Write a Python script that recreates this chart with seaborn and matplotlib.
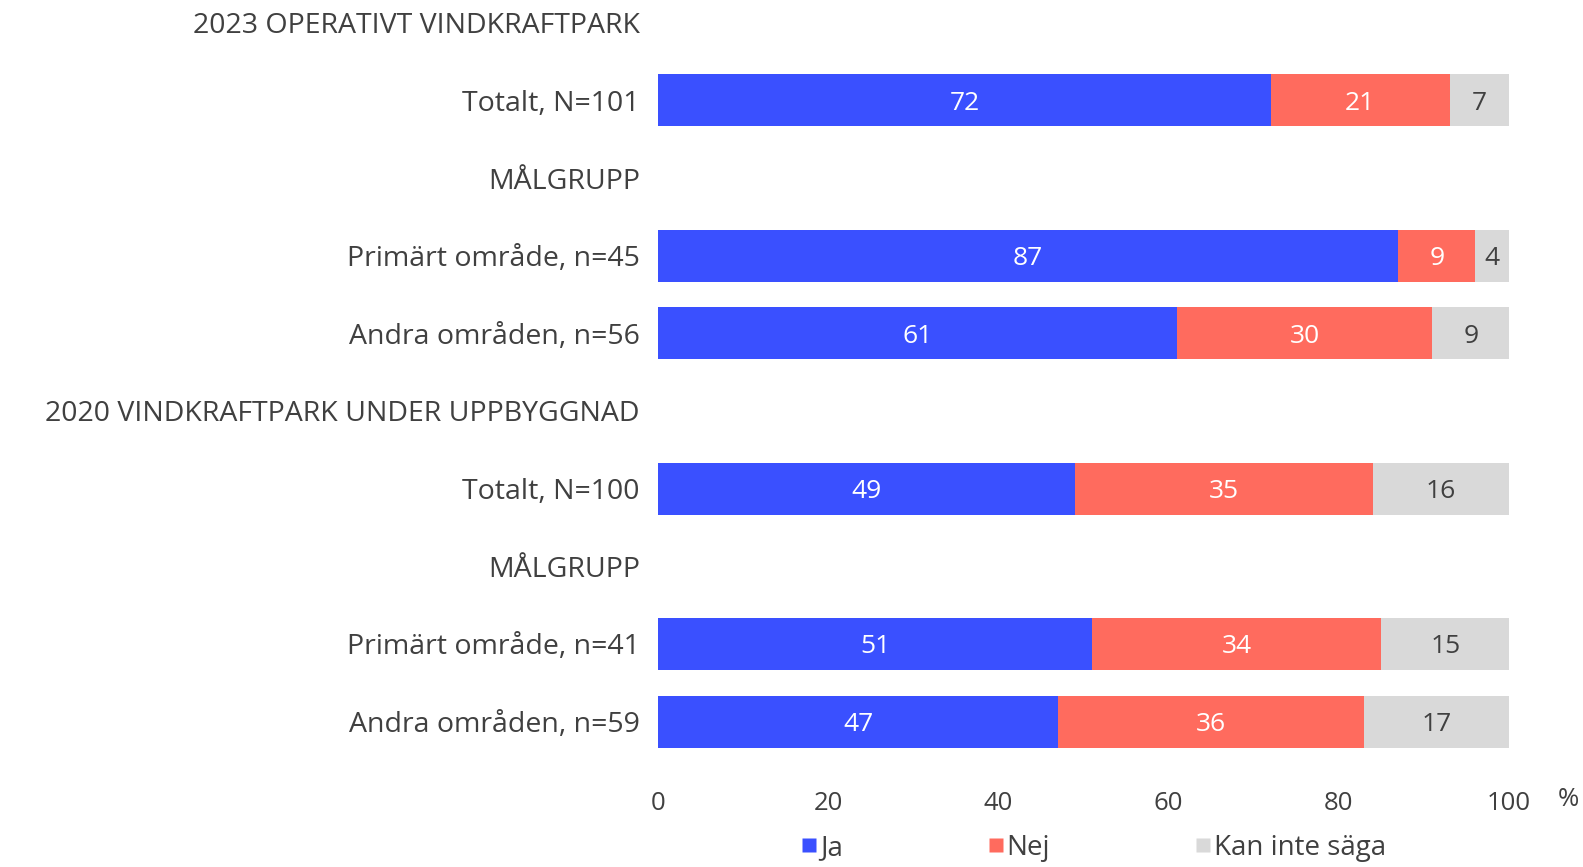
import matplotlib
matplotlib.use("Agg")
import matplotlib.pyplot as plt
from matplotlib.lines import Line2D
import numpy as np
import pandas as pd
import seaborn as sns

# rader uppifrån och ned (rubriker har inga värden)
row_labels = ["2023 OPERATIVT VINDKRAFTPARK", "Totalt, N=101", "MÅLGRUPP",
              "Primärt område, n=45", "Andra områden, n=56",
              "2020 VINDKRAFTPARK UNDER UPPBYGGNAD", "Totalt, N=100", "MÅLGRUPP",
              "Primärt område, n=41", "Andra områden, n=59"]
bar_rows = [1, 3, 4, 6, 8, 9]
ja = [72, 87, 61, 49, 51, 47]
nej = [21, 9, 30, 35, 34, 36]
kan = [7, 4, 9, 16, 15, 17]
series = ["Ja", "Nej", "Kan inte säga"]
colors = ["#3A50FF", "#FF6B5E", "#D9D9D9"]
text_colors = ["white", "white", "#404040"]

sns.set_theme(style="white")
plt.rcParams["font.family"] = ["Open Sans", "DejaVu Sans"]
txt = "#404040"

ids = [f"r{i}" for i in range(len(row_labels))]
df = pd.DataFrame({
    "row": [ids[i] for i in bar_rows],
    "ja": ja, "nej": nej, "kan": kan,
})
df["c_nej"] = df["ja"] + df["nej"]
df["c_kan"] = df["c_nej"] + df["kan"]

fig = plt.figure(figsize=(15.83, 8.67), dpi=100)
ax = fig.add_axes([0.4157, 0.123, 0.5376, 0.874])

# staplade staplar: ritas bakifrån (summa först)
for col, c in zip(["c_kan", "c_nej", "ja"], colors[::-1]):
    sns.barplot(data=df, x=col, y="row", order=ids, orient="h", color=c,
                saturation=1, width=0.67, edgecolor="none", linewidth=0,
                errorbar=None, ax=ax)

vals = {"Ja": ja, "Nej": nej, "Kan inte säga": kan}
starts = [np.zeros(len(ja)), np.array(ja), np.array(ja) + np.array(nej)]
for k, s in enumerate(series):
    for j, r in enumerate(bar_rows):
        v = vals[s][j]
        ax.text(starts[k][j] + v / 2, r, str(v), ha="center",
                va="center_baseline", color=text_colors[k], fontsize=19)

ax.set_ylim(9.5, -0.26)
ax.set_xlim(0, 100)
ax.set_xticks(range(0, 101, 20))
ax.set_yticks(range(len(row_labels)))
ax.set_yticklabels(row_labels)
ax.set_xlabel("")
ax.set_ylabel("")
ax.tick_params(axis="y", length=0, pad=13, labelsize=20.5, labelcolor=txt)
ax.tick_params(axis="x", length=0, pad=22, labelsize=18.5, labelcolor=txt)
sns.despine(ax=ax, left=True, bottom=True)
ax.text(1.07, -0.051, "%", transform=ax.transAxes, ha="center", va="center",
        fontsize=18.5, color=txt)

handles = [Line2D([], [], marker="s", linestyle="none", markersize=10,
                  markerfacecolor=c, markeredgecolor="none") for c in colors]
fig.legend(handles, series, loc="center left", bbox_to_anchor=(0.489, 0.022),
           ncol=3, frameon=False, fontsize=20, handletextpad=0.05,
           columnspacing=5.15, labelcolor=txt, handlelength=0.7)

fig.savefig("out.png", dpi=100)
